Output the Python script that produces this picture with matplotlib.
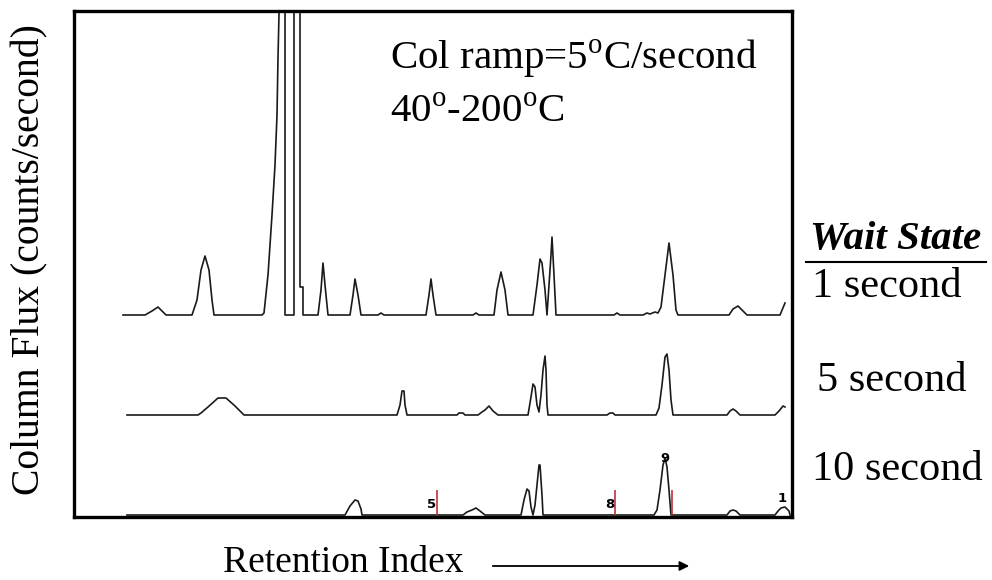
import matplotlib.pyplot as plt
from matplotlib.lines import Line2D

plt.rcParams['font.family'] = 'Liberation Serif'
plt.rcParams['mathtext.fontset'] = 'custom'
plt.rcParams['mathtext.rm'] = 'Liberation Serif'

# retention index (arbitrary units) and signal above each trace's baseline
# wait state 1 second
x_1s = [123, 145, 152, 158, 163, 166, 192, 197, 201, 205, 209, 212, 214,
        262, 264, 268, 272, 275, 277, 278, 279, 279, 285, 285, 294, 294, 300, 300, 303, 303,
        318, 321, 323, 325, 328, 350, 353, 355, 358, 361, 378, 381, 384,
        426, 429, 431, 433, 436, 473, 476, 479, 494, 497, 501, 505, 508,
        533, 537, 540, 542, 545, 547, 549, 551, 552, 554, 556, 614, 617, 620,
        643, 647, 650, 655, 658, 661, 665, 669, 673, 676, 678,
        729, 733, 738, 743, 747, 780, 785]
y_1s = [0, 0, 4, 8, 3, 0, 0, 15, 45, 59, 45, 15, 0,
        0, 2, 40, 100, 150, 200, 257, 301, 600, 600, 0, 0, 600, 600, 28, 28, 0,
        0, 25, 52, 30, 0, 0, 20, 36, 20, 0, 0, 2, 0,
        0, 20, 36, 20, 0, 0, 2, 0, 0, 25, 43, 25, 0,
        0, 30, 56, 52, 25, 0, 30, 60, 78, 40, 0, 0, 2, 0,
        0, 2, 1, 3, 2, 8, 40, 72, 40, 5, 0,
        0, 6, 9, 4, 0, 0, 12]

# wait state 5 second
x_5s = [127, 198, 201, 208, 218, 226, 235, 244, 397, 400, 402, 404, 405, 407,
        457, 459, 463, 465, 478, 482, 485, 489, 493, 498,
        528, 531, 533, 535, 537, 539, 541, 543, 545, 546, 547, 548,
        607, 610, 613, 615, 656, 659, 662, 665, 667, 669, 671, 673,
        727, 730, 733, 736, 740, 775, 779, 783, 785]
y_5s = [0, 0, 2, 8, 17, 17, 9, 0, 0, 10, 24, 24, 10, 0,
        0, 2, 2, 0, 0, 3, 5, 9, 4, 0,
        0, 18, 31, 28, 10, 3, 20, 45, 59, 45, 10, 0,
        0, 2, 2, 0, 0, 7, 30, 58, 61, 45, 15, 0,
        0, 4, 6, 4, 0, 0, 4, 9, 8]

# wait state 10 second
x_10s = [127, 345, 350, 355, 358, 361, 362, 463, 467, 472, 476, 480, 485,
         521, 524, 527, 529, 531, 533, 535, 537, 539, 540, 542, 543,
         654, 657, 660, 663, 665, 667, 669, 671,
         727, 730, 733, 736, 740, 775, 778, 781, 785, 789, 790]
y_10s = [0, 0, 9, 15, 14, 6, 0, 0, 3, 5, 7, 4, 0,
         0, 15, 26, 24, 8, 0, 10, 30, 50, 50, 20, 0,
         0, 5, 25, 50, 57, 48, 25, 0,
         0, 4, 5, 4, 0, 0, 4, 7, 8, 4, 0]

# peak markers on the 10 second trace
marker_x = [437, 615, 672]
marker_h = 25
peak_labels = ['5', '8', '9', '1']
peak_label_x = [432, 610, 665, 782]
peak_label_y = [10, 10, 57, 17]

offsets = [202, 102, 2]
wait_labels = ['1 second', '5 second', '10 second']

fig = plt.figure(figsize=(9.92, 5.8), dpi=100)
ax = fig.add_axes([74 / 992, 63 / 580, 718 / 992, 506 / 580])

for xs, ys, off in zip([x_1s, x_5s, x_10s], [y_1s, y_5s, y_10s], offsets):
    ax.plot(xs, [v + off for v in ys], color='#1a1a1a', lw=1.2, clip_on=True)

ax.vlines(marker_x, offsets[2], offsets[2] + marker_h, color='#c0303a', lw=1.2)
for lab, lx, ly in zip(peak_labels, peak_label_x, peak_label_y):
    ax.text(lx, offsets[2] + ly, lab, family='DejaVu Sans', fontweight='bold',
            fontsize=9.5, ha='center', va='center')

ax.set_xlim(74, 792)
ax.set_ylim(0, 506)
ax.set_xticks([])
ax.set_yticks([])
for s in ax.spines.values():
    s.set_linewidth(2.4)

ax.text(0.44, 0.905, 'Col ramp=5$^{\\mathrm{o}}$C/second', transform=ax.transAxes,
        fontsize=29.5, va='center')
ax.text(0.44, 0.8, '40$^{\\mathrm{o}}$-200$^{\\mathrm{o}}$C', transform=ax.transAxes,
        fontsize=29.5, va='center')

fig.text(30 / 992, 1 - 260 / 580, 'Column Flux (counts/second)', rotation=90,
         fontsize=28.5, ha='center', va='center')
fig.text(343 / 992, 1 - 563 / 580, 'Retention Index', fontsize=27,
         ha='center', va='center')
ax.annotate('', xy=(692 / 992, 1 - 566 / 580), xytext=(490 / 992, 1 - 566 / 580),
            xycoords='figure fraction', textcoords='figure fraction',
            arrowprops=dict(arrowstyle='-|>', color='black', lw=1.3,
                            mutation_scale=14))

fig.text(896 / 992, 1 - 240 / 580, 'Wait State', fontsize=29.5, fontweight='bold',
         fontstyle='italic', ha='center', va='center')
fig.add_artist(Line2D([806 / 992, 986 / 992], [1 - 262 / 580, 1 - 262 / 580],
                      transform=fig.transFigure, color='black', lw=1.5))
for lab, xx, yy in zip(wait_labels, [812, 817, 812], [287, 381, 470]):
    fig.text(xx / 992, 1 - yy / 580, lab, fontsize=30.5, ha='left', va='center')

fig.savefig('out.png', dpi=100)
